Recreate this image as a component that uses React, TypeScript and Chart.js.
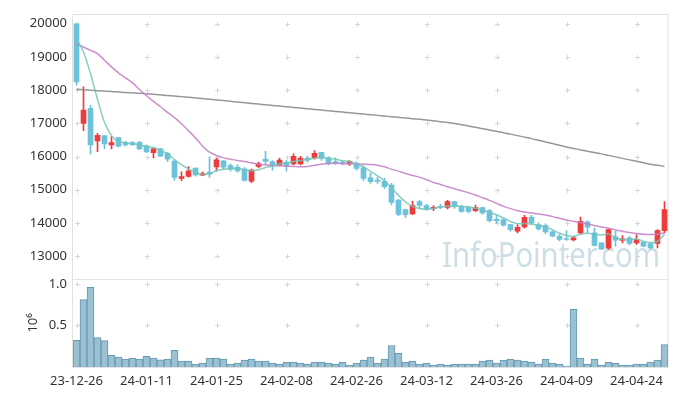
import React, { useEffect, useRef } from 'react';
import { Chart, registerables } from 'chart.js';
Chart.register(...registerables);

const dates = [
  '23-12-26', '23-12-27', '23-12-28', '24-01-02', '24-01-03', '24-01-04', '24-01-05', '24-01-08', '24-01-09', '24-01-10',
  '24-01-11', '24-01-12', '24-01-15', '24-01-16', '24-01-17', '24-01-18', '24-01-19', '24-01-22', '24-01-23', '24-01-24',
  '24-01-25', '24-01-26', '24-01-29', '24-01-30', '24-01-31', '24-02-01', '24-02-02', '24-02-05', '24-02-06', '24-02-07',
  '24-02-08', '24-02-13', '24-02-14', '24-02-15', '24-02-16', '24-02-19', '24-02-20', '24-02-21', '24-02-22', '24-02-23',
  '24-02-26', '24-02-27', '24-02-28', '24-02-29', '24-03-04', '24-03-05', '24-03-06', '24-03-07', '24-03-08', '24-03-11',
  '24-03-12', '24-03-13', '24-03-14', '24-03-15', '24-03-18', '24-03-19', '24-03-20', '24-03-21', '24-03-22', '24-03-25',
  '24-03-26', '24-03-27', '24-03-28', '24-03-29', '24-04-01', '24-04-02', '24-04-03', '24-04-04', '24-04-05', '24-04-08',
  '24-04-09', '24-04-11', '24-04-12', '24-04-15', '24-04-16', '24-04-17', '24-04-18', '24-04-19', '24-04-22', '24-04-23',
  '24-04-24', '24-04-25', '24-04-26', '24-04-29', '24-04-30',
];

const opens = [
  20000, 17000, 17450, 16470, 16630, 16350, 16570, 16430, 16420, 16430,
  16320, 16120, 16230, 16100, 15860, 15340, 15400, 15650, 15440, 15530,
  15690, 15870, 15730, 15680, 15620, 15260, 15700, 15920, 15850, 15750,
  15830, 15780, 15780, 15950, 15960, 16130, 15960, 15850, 15830, 15780,
  15780, 15660, 15360, 15290, 15250, 15140, 14690, 14400, 14270, 14640,
  14520, 14430, 14500, 14470, 14640, 14490, 14470, 14370, 14460, 14370,
  14110, 14100, 13950, 13750, 13880, 14170, 13950, 13920, 13730, 13600,
  13530, 13490, 13700, 14030, 13700, 13400, 13240, 13580, 13470, 13550,
  13400, 13420, 13380, 13380, 13770,
];
const highs = [
  20000, 18100, 17550, 16700, 16630, 16600, 16570, 16460, 16450, 16460,
  16350, 16250, 16250, 16130, 15880, 15540, 15700, 15650, 15540, 15990,
  15950, 15880, 15780, 15760, 15670, 15620, 15830, 16160, 15880, 15950,
  15880, 16080, 16010, 16010, 16180, 16130, 16000, 15960, 15870, 15880,
  15840, 15720, 15500, 15370, 15340, 15190, 14700, 14420, 14660, 14680,
  14560, 14520, 14560, 14680, 14650, 14540, 14510, 14540, 14480, 14400,
  14250, 14120, 13960, 13950, 14230, 14230, 14000, 13970, 13760, 13650,
  13770, 13600, 14180, 14060, 13850, 13400, 13830, 13750, 13620, 13600,
  13650, 13440, 13400, 13800, 14640,
];
const lows = [
  18150, 16780, 16080, 16150, 16230, 16230, 16290, 16310, 16330, 16210,
  16120, 15960, 16000, 15850, 15290, 15270, 15380, 15410, 15420, 15370,
  15560, 15620, 15560, 15530, 15260, 15210, 15660, 15760, 15590, 15720,
  15560, 15750, 15750, 15830, 15920, 15880, 15750, 15760, 15750, 15730,
  15590, 15270, 15190, 15190, 15030, 14540, 14220, 14160, 14250, 14420,
  14380, 14370, 14430, 14420, 14440, 14320, 14300, 14340, 14260, 14030,
  13990, 13900, 13750, 13700, 13840, 13950, 13780, 13680, 13580, 13460,
  13470, 13460, 13650, 13700, 13300, 13200, 13200, 13300, 13400, 13340,
  13350, 13280, 13220, 13250, 13700,
];
const closes = [
  18250, 17400, 16350, 16640, 16380, 16420, 16310, 16350, 16360, 16230,
  16140, 16230, 16010, 15920, 15370, 15400, 15570, 15450, 15490, 15470,
  15900, 15680, 15620, 15570, 15280, 15590, 15790, 15850, 15740, 15890,
  15710, 16010, 15950, 15890, 16100, 15940, 15800, 15810, 15790, 15850,
  15640, 15340, 15240, 15250, 15090, 14620, 14260, 14250, 14520, 14530,
  14430, 14470, 14470, 14640, 14490, 14350, 14350, 14460, 14300, 14070,
  14070, 13930, 13800, 13870, 14170, 14000, 13820, 13730, 13600, 13500,
  13500, 13550, 14050, 13870, 13320, 13210, 13800, 13480, 13520, 13380,
  13500, 13300, 13250, 13770, 14400,
];

const ma5 = [
  19550, 19150, 18500, 17720, 17030, 16630, 16440, 16420, 16380, 16350,
  16300, 16270, 16190, 16080, 15910, 15760, 15630, 15530, 15460, 15480,
  15580, 15620, 15635, 15645, 15610, 15570, 15600, 15670, 15710, 15780,
  15810, 15850, 15880, 15910, 15950, 15975, 15945, 15920, 15875, 15845,
  15785, 15685, 15550, 15420, 15270, 15060, 14830, 14630, 14500, 14435,
  14410, 14440, 14475, 14510, 14510, 14500, 14475, 14445, 14385, 14320,
  14245, 14150, 14045, 13975, 13980, 13970, 13925, 13880, 13800, 13690,
  13620, 13590, 13660, 13690, 13660, 13640, 13670, 13560, 13500, 13495,
  13515, 13445, 13410, 13440, 13655,
];
const ma20 = [
  19385, 19300, 19200, 19100, 18900, 18700, 18520, 18370, 18220, 18020,
  17830, 17660, 17500, 17330, 17170, 16990, 16780, 16560, 16320, 16130,
  16030, 15960, 15920, 15880, 15850, 15810, 15770, 15750, 15730, 15720,
  15710, 15700, 15690, 15700, 15740, 15770, 15790, 15800, 15790, 15780,
  15780, 15770, 15760, 15740, 15690, 15620, 15560, 15490, 15430, 15380,
  15300, 15220, 15160, 15090, 15030, 14970, 14910, 14840, 14760, 14680,
  14590, 14500, 14430, 14370, 14330, 14300, 14270, 14240, 14190, 14140,
  14090, 14050, 14010, 13970, 13920, 13880, 13840, 13790, 13750, 13710,
  13680, 13660, 13650, 13660, 13700,
];
const ma120 = [
  18030, 18015, 18000, 17985, 17970, 17960, 17945, 17930, 17920, 17905,
  17890, 17875, 17860, 17840, 17825, 17805, 17785, 17765, 17745, 17725,
  17705, 17685, 17665, 17640, 17620, 17600, 17580, 17560, 17540, 17520,
  17500, 17480, 17460, 17440, 17420, 17400, 17380, 17360, 17340, 17320,
  17300, 17280, 17260, 17240, 17220, 17200, 17180, 17160, 17140, 17120,
  17100, 17075, 17050, 17025, 16995, 16960, 16920, 16880, 16840, 16800,
  16760, 16720, 16675, 16630, 16585, 16540, 16490, 16440, 16390, 16340,
  16290, 16245, 16200, 16160, 16120, 16080, 16035, 15990, 15945, 15900,
  15855, 15810, 15765, 15735, 15700,
];

const volumes = [
  320000, 810000, 957000, 353000, 318000, 141000, 118000, 94000, 106000, 94000,
  129000, 106000, 86000, 94000, 200000, 71000, 71000, 35000, 47000, 106000,
  106000, 94000, 35000, 47000, 82000, 94000, 71000, 71000, 47000, 35000,
  59000, 59000, 47000, 35000, 59000, 59000, 47000, 35000, 59000, 20000,
  47000, 82000, 118000, 47000, 94000, 259000, 165000, 59000, 71000, 35000,
  47000, 24000, 35000, 24000, 35000, 35000, 35000, 35000, 71000, 82000,
  47000, 82000, 94000, 82000, 71000, 59000, 35000, 94000, 47000, 35000,
  12000, 694000, 106000, 35000, 94000, 24000, 59000, 47000, 24000, 24000,
  35000, 35000, 59000, 82000, 270000,
];

const priceTicks = [13000, 14000, 15000, 16000, 17000, 18000, 19000, 20000];
const volumeTicks = [500000, 1000000];
const xTickEvery = 10;

const FONT = '"Noto Sans", "DejaVu Sans", sans-serif';

const decoPlugin = {
  id: 'deco',
  beforeDatasetsDraw(chart: any) {
    const { ctx, chartArea } = chart;
    const { left, right, top, bottom } = chartArea;
    const sx = chart.scales.x;
    const sy = chart.scales.y;
    const sv = chart.scales.yv;
    ctx.save();
    // watermark
    ctx.font = `34px ${FONT}`;
    ctx.fillStyle = 'rgba(165,195,212,0.55)';
    ctx.textBaseline = 'alphabetic';
    ctx.textAlign = 'left';
    ctx.fillText('InfoPointer.com', 442, 267, 218);

    // borders
    ctx.strokeStyle = '#e2e2e2';
    ctx.lineWidth = 1;
    ctx.beginPath();
    ctx.rect(Math.round(left) - 0.5, Math.round(top) + 0.5, Math.round(right - left) + 0.5, Math.round(bottom - top));
    const sep = Math.round(Math.min(sy.bottom, sv.bottom)) + 0.5;
    ctx.moveTo(left, sep);
    ctx.lineTo(right, sep);
    ctx.stroke();

    // crosses
    const xs: number[] = [];
    for (let i = 0; i < dates.length; i += xTickEvery) xs.push(Math.round(sx.getPixelForValue(i)) + 0.5);
    const ys: number[] = [];
    priceTicks.forEach((v) => ys.push(Math.round(sy.getPixelForValue(v)) + 0.5));
    volumeTicks.forEach((v) => ys.push(Math.round(sv.getPixelForValue(v)) + 0.5));
    ctx.strokeStyle = '#d8d8d8';
    ctx.beginPath();
    xs.forEach((x) => {
      ys.forEach((y) => {
        ctx.moveTo(x - 2.5, y);
        ctx.lineTo(x + 2.5, y);
        ctx.moveTo(x, y - 2.5);
        ctx.lineTo(x, y + 2.5);
      });
    });
    ctx.stroke();
    ctx.restore();
  },
};

export default function App() {
  const ref = useRef<HTMLCanvasElement>(null);
  useEffect(() => {
    if (!ref.current) return;
    const up = '#ee3b3b';
    const down = '#6cc2db';
    const colors = closes.map((c, i) => (c >= opens[i] ? up : down));
    const tickFont = { family: FONT, size: 13 };
    const chart = new Chart(ref.current, {
      type: 'bar',
      data: {
        labels: dates,
        datasets: [
          {
            type: 'line',
            data: ma5,
            borderColor: 'rgba(115,198,182,0.85)',
            borderWidth: 1.5,
            pointRadius: 0,
            tension: 0.3,
            yAxisID: 'y',
            order: 0,
          } as any,
          {
            type: 'line',
            data: ma20,
            borderColor: 'rgba(198,130,198,0.9)',
            borderWidth: 1.5,
            pointRadius: 0,
            tension: 0.3,
            yAxisID: 'y',
            order: 0,
          } as any,
          {
            type: 'line',
            data: ma120,
            borderColor: 'rgba(140,140,140,0.9)',
            borderWidth: 1.5,
            pointRadius: 0,
            tension: 0.3,
            yAxisID: 'y',
            order: 0,
          } as any,
          {
            data: lows.map((l, i) => [l, highs[i]]),
            backgroundColor: colors,
            barThickness: 1,
            grouped: false,
            yAxisID: 'y',
            order: 2,
          } as any,
          {
            data: opens.map((o, i) => [o, closes[i]]),
            backgroundColor: colors,
            barThickness: 5,
            minBarLength: 1,
            grouped: false,
            yAxisID: 'y',
            order: 1,
          } as any,
          {
            data: volumes,
            backgroundColor: '#9bc0d1',
            borderColor: '#6398b2',
            borderWidth: 1,
            barPercentage: 1,
            categoryPercentage: 1,
            grouped: false,
            yAxisID: 'yv',
            order: 3,
          } as any,
        ],
      },
      options: {
        animation: false,
        responsive: false,
        devicePixelRatio: 1,
        events: [],
        layout: { padding: { left: 0, right: 9, top: 10, bottom: 0 } },
        plugins: { legend: { display: false }, tooltip: { enabled: false } },
        scales: {
          x: {
            type: 'category',
            offset: true,
            grid: { display: false, drawTicks: false },
            border: { display: false },
            ticks: {
              autoSkip: false,
              maxRotation: 0,
              padding: 6,
              color: '#333',
              font: tickFont,
              callback: (_v: any, i: number) => (i % xTickEvery === 0 ? dates[i] : ''),
            },
            afterFit: (s: any) => {
              s.height = 29;
            },
          },
          yv: {
            type: 'linear',
            position: 'left',
            stack: 'main',
            stackWeight: 1,
            min: 0,
            max: 1062000,
            grid: { display: false, drawTicks: false },
            border: { display: false },
            title: { display: true, text: '10⁶', color: '#333', font: tickFont, padding: { top: 25, bottom: 0 } },
            ticks: {
              padding: 6,
              color: '#333',
              font: tickFont,
              callback: (v: any) => (Number(v) / 1e6).toFixed(1),
            },
            afterBuildTicks: (s: any) => {
              s.ticks = volumeTicks.map((v) => ({ value: v }));
            },
            afterFit: (s: any) => {
              s.width = 73;
            },
          },
          y: {
            type: 'linear',
            position: 'left',
            stack: 'main',
            stackWeight: 3,
            min: 12320,
            max: 20300,
            grid: { display: false, drawTicks: false },
            border: { display: false },
            ticks: { padding: 6, color: '#333', font: tickFont, callback: (v: any) => String(v) },
            afterBuildTicks: (s: any) => {
              s.ticks = priceTicks.map((v) => ({ value: v }));
            },
            afterFit: (s: any) => {
              s.width = 73;
            },
          },
        } as any,
      },
      plugins: [decoPlugin],
    });
    return () => chart.destroy();
  }, []);
  return (
    <div style={{ position: 'absolute', left: 0, top: 0, width: 677, height: 396, background: '#fff' }}>
      <canvas ref={ref} width={677} height={396} style={{ display: 'block' }} />
    </div>
  );
}
